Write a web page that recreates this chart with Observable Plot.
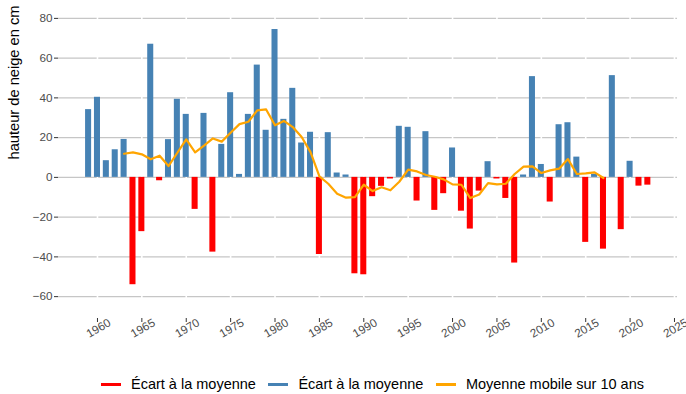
<!DOCTYPE html>
<html>
<head>
<meta charset="utf-8">
<script src="https://cdn.jsdelivr.net/npm/d3@7"></script>
<script src="https://cdn.jsdelivr.net/npm/@observablehq/plot@0.6"></script>
<style>
html, body { margin: 0; padding: 0; background: #fff; overflow: hidden; }
body { width: 686px; height: 394px; position: relative; font-family: "Liberation Sans", Arial, sans-serif; }
#legend { position: absolute; left: 101px; top: 374px; height: 20px; display: flex; align-items: center; font-size: 14.5px; color: #000; white-space: nowrap; }
.sw { display: inline-block; width: 20px; height: 3px; margin-right: 10px; }
.item { display: flex; align-items: center; margin-right: 12.5px; }
</style>
</head>
<body>
<div id="chart"></div>
<div id="legend"></div>
<script>
const years = [1959,1960,1961,1962,1963,1964,1965,1966,1967,1968,1969,1970,1971,1972,1973,1974,1975,1976,1977,1978,1979,
  1980,1981,1982,1983,1984,1985,1986,1987,1988,1989,1990,1991,1992,1993,1994,1995,1996,1997,1998,1999,
  2000,2001,2002,2003,2004,2005,2006,2007,2008,2009,2010,2011,2012,2013,2014,2015,2016,2017,2018,2019,2020,2021,2022];
const ecart = [34.1,40.3,8.4,13.9,19.1,-54.0,-27.3,67.0,-1.7,19.0,39.3,31.7,-16.1,32.2,-37.6,16.6,42.6,1.5,31.7,56.5,23.7,
  74.4,29.2,44.8,17.3,22.7,-38.8,22.5,2.2,1.2,-48.5,-49.0,-9.7,-4.5,-0.8,25.7,25.2,-11.9,23.0,-16.6,-8.2,
  14.8,-17.0,-26.0,-6.9,7.9,-0.8,-10.6,-43.1,1.2,50.7,6.5,-12.4,26.5,27.5,10.2,-32.7,1.5,-36.1,51.2,-26.3,8.1,-4.4,-3.9];
const maYears = [1963,1964,1965,1966,1967,1968,1969,1970,1971,1972,1973,1974,1975,1976,1977,1978,1979,1980,1981,1982,1983,
  1984,1985,1986,1987,1988,1989,1990,1991,1992,1993,1994,1995,1996,1997,1998,1999,2000,2001,2002,2003,2004,
  2005,2006,2007,2008,2009,2010,2011,2012,2013,2014,2015,2016,2017];
const maValues = [11.9,12.6,11.6,9.1,10.9,5.7,12.4,19.1,12.6,16.0,19.6,18.0,22.5,26.8,28.0,33.7,34.2,26.2,28.4,25.3,20.3,
  12.7,0.5,-3.2,-8.2,-10.2,-9.9,-3.7,-6.9,-5.0,-6.5,-2.2,3.9,3.0,1.2,0.3,-1.0,-3.5,-3.7,-10.4,-8.6,-2.9,
  -3.5,-3.2,1.7,5.4,5.5,2.2,3.5,4.4,9.2,1.7,2.0,2.5,-0.3];
const xTicks = [1960,1965,1970,1975,1980,1985,1990,1995,2000,2005,2010,2015,2020,2025];
const yTicks = [-60,-40,-20,0,20,40,60,80];
const yLabel = "hauteur de neige en cm";
const legendLabels = ["Écart à la moyenne", "Écart à la moyenne", "Moyenne mobile sur 10 ans"];
const legendColors = ["red", "steelblue", "orange"];

const bars = years.map((y, i) => ({year: y, value: ecart[i]}));
const ma = maYears.map((y, i) => ({year: y, value: maValues[i]}));
const pos = bars.filter(d => d.value >= 0);
const neg = bars.filter(d => d.value < 0);
const half = 0.34;

const chart = Plot.plot({
  width: 686, height: 374,
  marginLeft: 58, marginRight: 9, marginTop: 0, marginBottom: 56,
  x: {domain: [1955.61, 2025.34]},
  y: {domain: [-71, 89]},
  style: {fontFamily: "'Liberation Sans', Arial, sans-serif", fontSize: "11.7px", color: "#4d4d4d", background: "white", overflow: "visible"},
  marks: [
    Plot.gridY(yTicks, {stroke: "#c6c6c6", strokeOpacity: 1, strokeWidth: 1.1}),
    Plot.ruleX(xTicks, {stroke: "white", strokeWidth: 1.6}),
    Plot.rect(pos, {x1: d => d.year - half, x2: d => d.year + half, y1: 0, y2: "value", fill: "steelblue"}),
    Plot.rect(neg, {x1: d => d.year - half, x2: d => d.year + half, y1: 0, y2: "value", fill: "red"}),
    Plot.line(ma, {x: "year", y: "value", stroke: "orange", strokeWidth: 2.2}),
    Plot.axisY(yTicks, {tickSize: 4, tickPadding: 2, label: null, stroke: "#333", fill: "#4d4d4d", fontSize: 11.7}),
    Plot.axisX(xTicks, {tickSize: 4, tickFormat: () => "", label: null, stroke: "#333"}),
    Plot.text(xTicks, {x: d => d, frameAnchor: "bottom", dy: 13, dx: 3, rotate: -30, fill: "#4d4d4d", fontSize: 11.7, text: d => String(d)}),
    Plot.text([yLabel], {frameAnchor: "left", dx: -44, rotate: -90, fill: "black", fontSize: 14.67, text: d => d})
  ]
});
document.getElementById("chart").appendChild(chart);

const legend = document.getElementById("legend");
legendLabels.forEach((lab, i) => {
  const it = document.createElement("div");
  it.className = "item";
  const sw = document.createElement("span");
  sw.className = "sw";
  sw.style.background = legendColors[i];
  const t = document.createElement("span");
  t.textContent = lab;
  it.appendChild(sw);
  it.appendChild(t);
  legend.appendChild(it);
});
</script>
</body>
</html>
